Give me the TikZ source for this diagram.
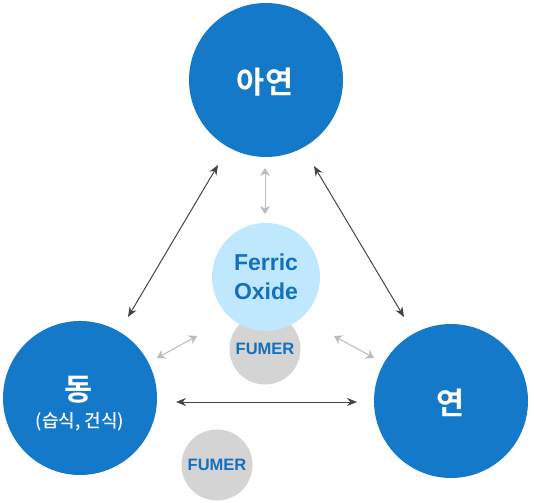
\documentclass[tikz,border=0pt]{standalone}
\usepackage{fontspec}
\setmainfont{Liberation Sans}
\newfontfamily\kr{Noto Sans CJK KR Bold}
\newfontfamily\krm{Noto Sans CJK KR Medium}
\newfontfamily\latb{Liberation Sans}
\usetikzlibrary{arrows.meta}
\definecolor{mainblue}{HTML}{1479C9}
\definecolor{lightblue}{HTML}{BFE7FD}
\definecolor{fumergrey}{HTML}{D4D4D4}
\definecolor{txtblue}{HTML}{1270BF}
\definecolor{darkarrow}{HTML}{444444}
\definecolor{greyarrow}{HTML}{BBBBBB}
\begin{document}
\begin{tikzpicture}[x=1pt,y=-1pt,
  bigc/.style={circle,fill=mainblue,minimum size=154pt,inner sep=0pt},
  bigtxt/.style={text=white,font=\kr\fontsize{30.5}{32}\selectfont,inner sep=0pt},
  subtxt/.style={text=white,font=\krm\fontsize{18}{20}\selectfont,inner sep=0pt},
  ferric/.style={circle,fill=lightblue,minimum size=108pt,inner sep=0pt,text=txtblue,font=\latb\bfseries\fontsize{23}{29}\selectfont,align=center},
  fumer/.style={circle,fill=fumergrey,minimum size=71pt,inner sep=0pt,text=txtblue,font=\latb\bfseries\fontsize{16.5}{18}\selectfont},
  darr/.style={draw=darkarrow,line width=1pt,{Stealth[length=10pt,width=8pt]}-{Stealth[length=10pt,width=8pt]}},
  garr/.style={draw=greyarrow,line width=1pt,{Stealth[length=8pt,width=10pt]}-{Stealth[length=8pt,width=10pt]}}
]
\useasboundingbox (0,0) rectangle (534,502);
\node[bigc] (zinc) at (266,80) {};
\node[bigtxt] (zinct) at (265,82) {아연};
\node[bigc] (cu) at (80,398) {};
\node[bigtxt] (cut) at (79,390) {동};
\node[subtxt] (cus) at (80,422) {(습식, 건식)};
\node[bigc] (pb) at (451,401) {};
\node[bigtxt] (pbt) at (451,403) {연};
\node[fumer] (fumer1) at (265,349) {FUMER};
\node[ferric] (fe) at (266,277) {Ferric\\Oxide};
\node[fumer] (fumer2) at (217,465) {FUMER};

\coordinate (a1) at (218,165); \coordinate (a2) at (128,317);
\coordinate (b1) at (314,166); \coordinate (b2) at (404,317);
\coordinate (c1) at (176,402); \coordinate (c2) at (357,402);
\coordinate (d1) at (265,168); \coordinate (d2) at (265,214);
\coordinate (e1) at (197,336); \coordinate (e2) at (157,358);
\coordinate (f1) at (334,336); \coordinate (f2) at (374,358);
\draw[darr] (a1) -- (a2);
\draw[darr] (b1) -- (b2);
\draw[darr] (c1) -- (c2);
\draw[garr] (d1) -- (d2);
\draw[garr] (e1) -- (e2);
\draw[garr] (f1) -- (f2);
\end{tikzpicture}
\end{document}
